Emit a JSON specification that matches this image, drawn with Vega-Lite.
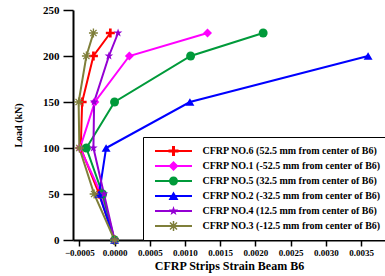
{
  "$schema": "https://vega.github.io/schema/vega-lite/v6.json",
  "width": 312,
  "height": 230,
  "autosize": {"type": "none"},
  "padding": {"left": 73, "top": 10, "right": 0, "bottom": 36},
  "background": "white",
  "config": {
    "view": {"stroke": null},
    "axis": {
      "grid": false,
      "domainColor": "black",
      "domainWidth": 2,
      "tickColor": "black",
      "tickWidth": 1.5,
      "labelOverlap": false,
      "labelFont": "Liberation Serif",
      "labelFontWeight": "bold",
      "labelColor": "black",
      "titleFont": "Liberation Serif",
      "titleFontWeight": "bold",
      "titleColor": "black"
    },
    "legend": {
      "labelFont": "Liberation Serif",
      "labelFontWeight": "bold",
      "labelColor": "black",
      "labelFontSize": 10
    }
  },
  "datasets": {
    "strain": [
      {"series": "CFRP NO.6 (52.5 mm from center of B6)", "load": 0, "strain": 0},
      {"series": "CFRP NO.6 (52.5 mm from center of B6)", "load": 50, "strain": -0.00022},
      {"series": "CFRP NO.6 (52.5 mm from center of B6)", "load": 100, "strain": -0.00048},
      {"series": "CFRP NO.6 (52.5 mm from center of B6)", "load": 150, "strain": -0.00046},
      {"series": "CFRP NO.6 (52.5 mm from center of B6)", "load": 200, "strain": -0.0003},
      {"series": "CFRP NO.6 (52.5 mm from center of B6)", "load": 225, "strain": -0.00006},
      {"series": "CFRP NO.1 (-52.5 mm from center of B6)", "load": 0, "strain": 0},
      {"series": "CFRP NO.1 (-52.5 mm from center of B6)", "load": 50, "strain": -0.00019},
      {"series": "CFRP NO.1 (-52.5 mm from center of B6)", "load": 100, "strain": -0.00049},
      {"series": "CFRP NO.1 (-52.5 mm from center of B6)", "load": 150, "strain": -0.00028},
      {"series": "CFRP NO.1 (-52.5 mm from center of B6)", "load": 200, "strain": 0.00021},
      {"series": "CFRP NO.1 (-52.5 mm from center of B6)", "load": 225, "strain": 0.00132},
      {"series": "CFRP NO.5 (32.5 mm from center of B6)", "load": 0, "strain": 0},
      {"series": "CFRP NO.5 (32.5 mm from center of B6)", "load": 50, "strain": -0.00017},
      {"series": "CFRP NO.5 (32.5 mm from center of B6)", "load": 100, "strain": -0.0004},
      {"series": "CFRP NO.5 (32.5 mm from center of B6)", "load": 150, "strain": 0.0},
      {"series": "CFRP NO.5 (32.5 mm from center of B6)", "load": 200, "strain": 0.00108},
      {"series": "CFRP NO.5 (32.5 mm from center of B6)", "load": 225, "strain": 0.00211},
      {"series": "CFRP NO.2 (-32.5 mm from center of B6)", "load": 0, "strain": 0},
      {"series": "CFRP NO.2 (-32.5 mm from center of B6)", "load": 50, "strain": -0.00022},
      {"series": "CFRP NO.2 (-32.5 mm from center of B6)", "load": 100, "strain": -0.00012},
      {"series": "CFRP NO.2 (-32.5 mm from center of B6)", "load": 150, "strain": 0.00107},
      {"series": "CFRP NO.2 (-32.5 mm from center of B6)", "load": 200, "strain": 0.0036},
      {"series": "CFRP NO.4 (12.5 mm from center of B6)", "load": 0, "strain": 0},
      {"series": "CFRP NO.4 (12.5 mm from center of B6)", "load": 50, "strain": -0.00015},
      {"series": "CFRP NO.4 (12.5 mm from center of B6)", "load": 100, "strain": -0.0003},
      {"series": "CFRP NO.4 (12.5 mm from center of B6)", "load": 150, "strain": -0.00029},
      {"series": "CFRP NO.4 (12.5 mm from center of B6)", "load": 200, "strain": -0.00008},
      {"series": "CFRP NO.4 (12.5 mm from center of B6)", "load": 225, "strain": 0.00005},
      {"series": "CFRP NO.3 (-12.5 mm from center of B6)", "load": 0, "strain": 0},
      {"series": "CFRP NO.3 (-12.5 mm from center of B6)", "load": 50, "strain": -0.00029},
      {"series": "CFRP NO.3 (-12.5 mm from center of B6)", "load": 100, "strain": -0.0005},
      {"series": "CFRP NO.3 (-12.5 mm from center of B6)", "load": 150, "strain": -0.00051},
      {"series": "CFRP NO.3 (-12.5 mm from center of B6)", "load": 200, "strain": -0.0004},
      {"series": "CFRP NO.3 (-12.5 mm from center of B6)", "load": 225, "strain": -0.0003}
    ]
  },
  "data": {"name": "strain"},
  "encoding": {
    "x": {
      "field": "strain", "type": "quantitative",
      "scale": {"domain": [-0.00059, 0.00384], "nice": false, "zero": false},
      "axis": {
        "title": "CFRP Strips Strain Beam B6",
        "orient": "bottom",
        "values": [-0.0005, 0, 0.0005, 0.001, 0.0015, 0.002, 0.0025, 0.003, 0.0035],
        "format": ".4f",
        "labelOverlap": false,
        "labelFlush": false,
        "labelFontSize": 9,
        "tickSize": 6,
        "labelPadding": 2,
        "titleFontSize": 12,
        "titlePadding": 3
      }
    },
    "y": {
      "field": "load", "type": "quantitative",
      "scale": {"domain": [0, 250], "nice": false},
      "axis": {
        "title": "Load (kN)",
        "orient": "left",
        "values": [0, 50, 100, 150, 200, 250],
        "labelFontSize": 11,
        "tickSize": 10,
        "labelPadding": 4,
        "titleFontSize": 10,
        "titlePadding": 19
      }
    },
    "color": {
      "field": "series", "type": "nominal",
      "scale": {
        "domain": [
          "CFRP NO.6 (52.5 mm from center of B6)",
          "CFRP NO.1 (-52.5 mm from center of B6)",
          "CFRP NO.5 (32.5 mm from center of B6)",
          "CFRP NO.2 (-32.5 mm from center of B6)",
          "CFRP NO.4 (12.5 mm from center of B6)",
          "CFRP NO.3 (-12.5 mm from center of B6)"
        ],
        "range": ["#ff0000", "#ff00ff", "#009a3a", "#0000ff", "#9400d3", "#7f7f3a"]
      },
      "legend": {
        "title": null,
        "orient": "none",
        "legendX": 70,
        "legendY": 127,
        "padding": 9,
        "strokeColor": "black",
        "fillColor": "white",
        "symbolSize": 100,
        "symbolStrokeWidth": 0,
        "symbolOpacity": 1,
        "symbolOffset": 16.5,
        "labelOffset": 24,
        "labelLimit": 260,
        "rowPadding": 5
      }
    }
  },
  "layer": [
    {
      "mark": {"type": "line", "strokeWidth": 2},
      "encoding": {"order": {"field": "load"}}
    },
    {
      "transform": [{"filter": {"field": "series", "equal": "CFRP NO.6 (52.5 mm from center of B6)"}}],
      "mark": {"type": "point", "filled": true, "size": 80, "opacity": 1, "strokeWidth": 0, "shape": "M-0.3 -1H0.3V-0.3H1V0.3H0.3V1H-0.3V0.3H-1V-0.3H-0.3Z"}
    },
    {
      "transform": [{"filter": {"field": "series", "equal": "CFRP NO.1 (-52.5 mm from center of B6)"}}],
      "mark": {"type": "point", "filled": true, "size": 80, "opacity": 1, "strokeWidth": 0, "shape": "diamond"}
    },
    {
      "transform": [{"filter": {"field": "series", "equal": "CFRP NO.5 (32.5 mm from center of B6)"}}],
      "mark": {"type": "point", "filled": true, "size": 80, "opacity": 1, "strokeWidth": 0, "shape": "circle"}
    },
    {
      "transform": [{"filter": {"field": "series", "equal": "CFRP NO.2 (-32.5 mm from center of B6)"}}],
      "mark": {"type": "point", "filled": true, "size": 80, "opacity": 1, "strokeWidth": 0, "shape": "triangle-up"}
    },
    {
      "transform": [{"filter": {"field": "series", "equal": "CFRP NO.4 (12.5 mm from center of B6)"}}],
      "mark": {"type": "point", "filled": true, "size": 80, "opacity": 1, "strokeWidth": 0, "shape": "M0 -1L0.235 -0.324L0.951 -0.309L0.38 0.124L0.588 0.809L0 0.4L-0.588 0.809L-0.38 0.124L-0.951 -0.309L-0.235 -0.324Z"}
    },
    {
      "transform": [{"filter": {"field": "series", "equal": "CFRP NO.3 (-12.5 mm from center of B6)"}}],
      "mark": {"type": "point", "filled": true, "size": 80, "opacity": 1, "strokeWidth": 0, "shape": "M-0.15 -1L0.15 -1L0.15 1L-0.15 1Z M-1 -0.15L1 -0.15L1 0.15L-1 0.15Z M-0.594 -0.806L0.806 0.594L0.594 0.806L-0.806 -0.594Z M-0.806 0.594L0.594 -0.806L0.806 -0.594L-0.594 0.806Z"}
    },
    {
      "mark": {"type": "point", "filled": true, "size": 80, "opacity": 0, "strokeWidth": 0},
      "encoding": {
        "shape": {
          "field": "series", "type": "nominal",
          "scale": {
            "domain": [
              "CFRP NO.6 (52.5 mm from center of B6)",
              "CFRP NO.1 (-52.5 mm from center of B6)",
              "CFRP NO.5 (32.5 mm from center of B6)",
              "CFRP NO.2 (-32.5 mm from center of B6)",
              "CFRP NO.4 (12.5 mm from center of B6)",
              "CFRP NO.3 (-12.5 mm from center of B6)"
            ],
            "range": [
              "M-3.7 -0.2H3.7V0.2H-3.7Z M-0.3 -1H0.3V-0.3H1V0.3H0.3V1H-0.3V0.3H-1V-0.3H-0.3Z",
              "M-3.7 -0.2H3.7V0.2H-3.7Z M0 -1L1 0L0 1L-1 0Z",
              "M-3.7 -0.2H3.7V0.2H-3.7Z M-0.9 0A0.9 0.9 0 1 1 0.9 0A0.9 0.9 0 1 1 -0.9 0Z",
              "M-3.7 -0.2H3.7V0.2H-3.7Z M0 -0.9L1 0.8L-1 0.8Z",
              "M-3.7 -0.2H3.7V0.2H-3.7Z M0 -1L0.235 -0.324L0.951 -0.309L0.38 0.124L0.588 0.809L0 0.4L-0.588 0.809L-0.38 0.124L-0.951 -0.309L-0.235 -0.324Z",
              "M-3.7 -0.2H3.7V0.2H-3.7Z M-0.15 -1L0.15 -1L0.15 1L-0.15 1Z M-1 -0.15L1 -0.15L1 0.15L-1 0.15Z M-0.594 -0.806L0.806 0.594L0.594 0.806L-0.806 -0.594Z M-0.806 0.594L0.594 -0.806L0.806 -0.594L-0.594 0.806Z"
            ]
          },
          "legend": {
            "title": null,
            "orient": "none",
            "legendX": 70,
            "legendY": 127,
            "padding": 9,
            "strokeColor": "black",
            "fillColor": "white",
            "symbolSize": 100,
            "symbolStrokeWidth": 0,
            "symbolOpacity": 1,
            "symbolOffset": 16.5,
            "labelOffset": 24,
            "labelLimit": 260,
            "rowPadding": 5
          }
        }
      }
    }
  ]
}
